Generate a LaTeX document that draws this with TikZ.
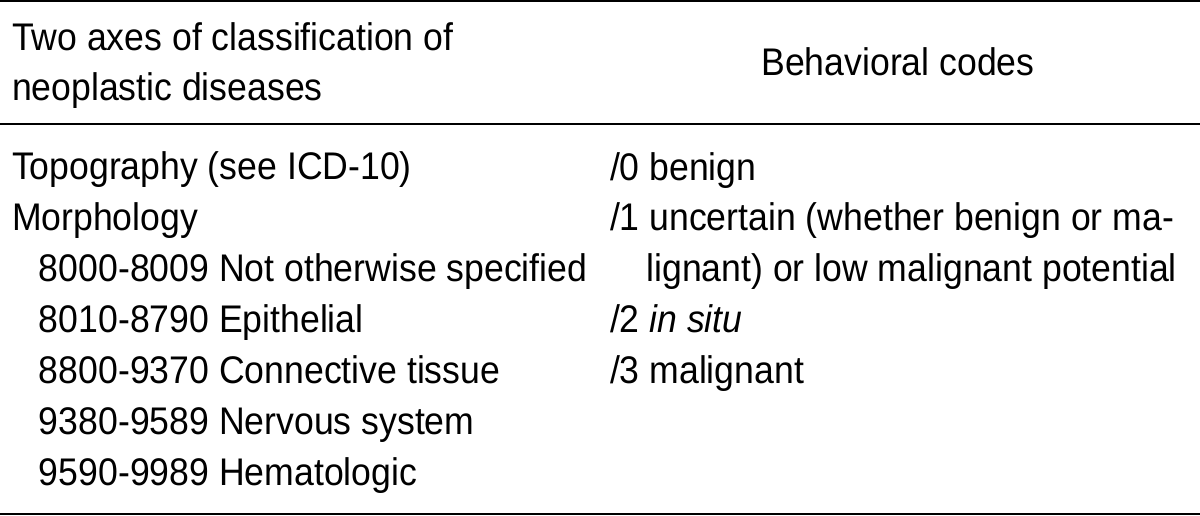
\documentclass[tikz,border=0pt]{standalone}
\usepackage{fontspec}
\setmainfont{Liberation Sans}[FakeStretch=0.925]
\begin{document}
\begin{tikzpicture}[x=0.5pt,y=-0.5pt,
  txt/.style={inner sep=0pt,outer sep=0pt,anchor=base west,font=\fontsize{19.25pt}{25.5pt}\selectfont},
  rule/.style={line width=1pt,black}]
\useasboundingbox (0,0) rectangle (1200,515);
% rules
\draw[rule] (0,1) -- (1200,1);
\draw[rule] (0,123.7) -- (1200,123.7);
\draw[rule] (0,514) -- (1200,514);
% header
\node[txt] (h1) at (12,50) {Two axes of classification of};
\node[txt] (h2) at (12,100) {neoplastic diseases};
\node[txt,anchor=base] (h3) at (898,75) {Behavioral codes};
% left column
\node[txt] (l1) at (12,179) {Topography (see ICD-10)};
\node[txt] (l2) at (12,230) {Morphology};
\node[txt] (l3) at (39,281) {8000-8009 Not otherwise specified};
\node[txt] (l4) at (39,332) {8010-8790 Epithelial};
\node[txt] (l5) at (39,383) {8800-9370 Connective tissue};
\node[txt] (l6) at (39,434) {9380-9589 Nervous system};
\node[txt] (l7) at (39,485) {9590-9989 Hematologic};
% right column
\node[txt] (r1) at (610,180) {/0 benign};
\node[txt] (r2) at (610,230) {/1 uncertain (whether benign or ma-};
\node[txt,anchor=base east] (r3) at (1177,281) {lignant) or low malignant potential};
\node[txt] (r4) at (610,332) {/2 \textit{in situ}};
\node[txt] (r5) at (610,383) {/3 malignant};
\end{tikzpicture}
\end{document}
